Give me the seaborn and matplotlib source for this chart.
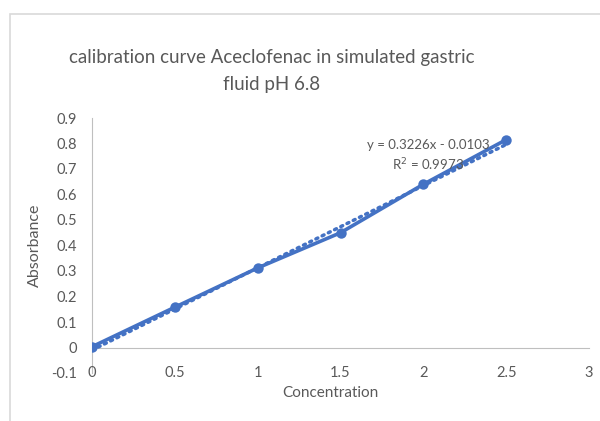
import numpy as np
import pandas as pd
import matplotlib
matplotlib.use("Agg")
import matplotlib.pyplot as plt
import seaborn as sns
from matplotlib.patches import Rectangle

# data
concentration = [0, 0.5, 1, 1.5, 2, 2.5]
absorbance = [0.003, 0.158, 0.312, 0.45, 0.64, 0.815]
slope = 0.3226
intercept = -0.0103
r_squared = 0.9973

sns.set_style("white")
plt.rcParams['font.family'] = ['Lato', 'DejaVu Sans']

blue = "#4472C4"
grey_text = "#595959"
axis_grey = "#BFBFBF"

df = pd.DataFrame({'Concentration': concentration, 'Absorbance': absorbance})
trend_x = np.array([concentration[0], concentration[-1]])
trend = pd.DataFrame({'x': trend_x, 'y': slope * trend_x + intercept})

fig = plt.figure(figsize=(6, 4.21), dpi=100)

# chart area border (top and left visible)
fig.patches.append(Rectangle((10 / 600, -0.05), 1.0, 1 - 14 / 421 + 0.05,
                             transform=fig.transFigure, fill=False,
                             edgecolor="#D9D9D9", linewidth=1.2))

ax = fig.add_axes([92 / 600, (421 - 373) / 421, 497 / 600, 255 / 421])

sns.lineplot(data=trend, x='x', y='y', ax=ax, color=blue, linewidth=2.5,
             linestyle=(0, (0.6, 1.4)), dash_capstyle='round')
sns.lineplot(data=df, x='Concentration', y='Absorbance', ax=ax, color=blue,
             linewidth=2.6, marker='o', markersize=7.5, markeredgewidth=0)

ax.set_xlim(0, 3)
ax.set_ylim(-0.1, 0.9)
ax.set_xticks(np.arange(0, 3.01, 0.5))
ax.set_xticklabels(['0', '0.5', '1', '1.5', '2', '2.5', '3'])
ax.set_yticks(np.arange(-0.1, 0.91, 0.1))
ax.set_yticklabels(['-0.1', '0', '0.1', '0.2', '0.3', '0.4', '0.5', '0.6', '0.7', '0.8', '0.9'])

for s in ['top', 'right']:
    ax.spines[s].set_visible(False)
ax.spines['bottom'].set_position(('data', 0))
ax.spines['left'].set_color(axis_grey)
ax.spines['bottom'].set_color(axis_grey)
ax.spines['left'].set_zorder(0)
ax.spines['bottom'].set_zorder(0)

ax.tick_params(axis='both', colors=axis_grey, labelcolor=grey_text, labelsize=10.5,
               direction='out', length=5, width=1)
ax.tick_params(axis='x', pad=8)
ax.tick_params(axis='y', pad=6)

ax.set_xlabel('Concentration', color=grey_text, fontsize=11)
ax.set_ylabel('Absorbance', color=grey_text, fontsize=11.5)
ax.xaxis.set_label_coords(238 / 497, -13 / 255)
ax.yaxis.set_label_coords(-50 / 497, (373 - 245) / 255)

fig.text(272 / 600, 1 - 71 / 421,
         'calibration curve Aceclofenac in simulated gastric\nfluid pH 6.8',
         ha='center', va='center', fontsize=13.5, color=grey_text, linespacing=1.7)

ax.text(2.03, 0.795, f'y = {slope}x - {abs(intercept)}', ha='center', va='center',
        fontsize=9.5, color=grey_text)
ax.text(2.03, 0.717, f'R$^2$ = {r_squared}', ha='center', va='center',
        fontsize=9.5, color=grey_text)

fig.savefig('out.png', dpi=100)
